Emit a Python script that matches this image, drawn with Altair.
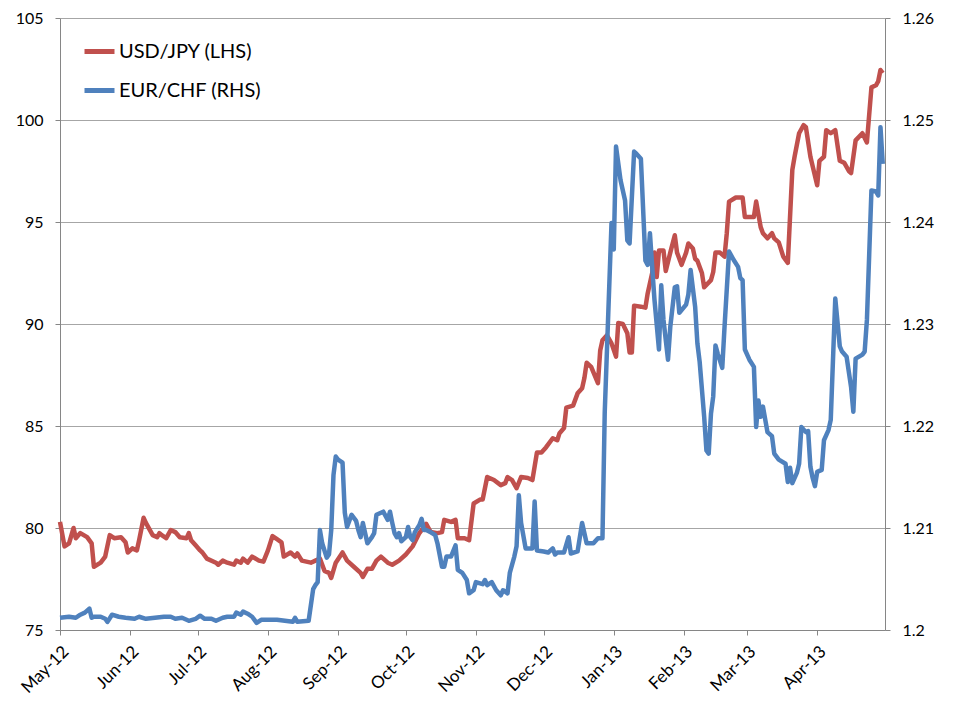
import altair as alt
import pandas as pd

start = pd.Timestamp("2012-05-01")

usd_days = [0, 2, 4, 6, 7, 9, 12, 14, 15, 18,
            20, 22, 24, 27, 29, 30, 32, 34, 35, 37,
            38, 41, 43, 44, 45, 47, 49, 51, 53, 56,
            57, 58, 60, 62, 63, 65, 69, 70, 72, 74,
            77, 78, 80, 81, 83, 85, 88, 90, 92, 94,
            96, 98, 99, 102, 104, 105, 107, 111, 113, 115,
            117, 119, 120, 122, 125, 127, 130, 133, 134, 136,
            138, 140, 142, 145, 147, 150, 153, 156, 159, 162,
            164, 167, 169, 170, 173, 175, 176, 179, 181, 183,
            186, 187, 189, 192, 195, 197, 198, 200, 202, 204,
            207, 209, 211, 213, 215, 218, 220, 221, 223, 224,
            227, 229, 231, 232, 233, 235, 238, 239, 240, 242,
            244, 246, 247, 249, 251, 252, 253, 254, 257, 259,
            260, 262, 263, 264, 265, 267, 268, 270, 272, 273,
            275, 277, 278, 280, 281, 282, 284, 285, 288, 289,
            290, 292, 294, 295, 296, 299, 302, 303, 307, 308,
            310, 311, 313, 315, 316, 318, 320, 322, 324, 325,
            327, 329, 330, 332, 335, 336, 338, 339, 341, 343,
            345, 347, 349, 350, 352, 355, 357, 359, 361, 362,
            363, 364]
usd_vals = [80.3, 79.1, 79.25, 80.0, 79.5, 79.75, 79.55, 79.25, 78.1, 78.3,
            78.6, 79.65, 79.5, 79.55, 79.3, 78.8, 79.0, 78.9, 79.4, 80.5,
            80.25, 79.65, 79.55, 79.75, 79.65, 79.5, 79.9, 79.8, 79.55, 79.5,
            79.75, 79.4, 79.15, 78.9, 78.8, 78.5, 78.3, 78.2, 78.4, 78.3,
            78.2, 78.4, 78.3, 78.5, 78.3, 78.6, 78.4, 78.35, 78.9, 79.6,
            79.45, 79.3, 78.6, 78.8, 78.6, 78.75, 78.4, 78.3, 78.4, 78.5,
            77.9, 77.8, 77.55, 78.3, 78.8, 78.4, 78.1, 77.8, 77.6, 78.0,
            78.0, 78.4, 78.6, 78.3, 78.2, 78.4, 78.7, 79.1, 79.75, 80.2,
            79.8, 79.75, 79.8, 80.4, 80.3, 80.4, 79.5, 79.5, 79.4, 81.2,
            81.4, 81.4, 82.5, 82.35, 82.1, 82.2, 82.5, 82.35, 81.95, 82.5,
            82.45, 82.35, 83.7, 83.7, 83.95, 84.4, 84.3, 84.65, 84.9, 85.9,
            86.0, 86.6, 86.85, 87.35, 88.1, 87.9, 87.1, 88.7, 89.2, 89.45,
            89.05, 88.4, 90.05, 90.0, 89.55, 88.6, 88.6, 90.9, 90.85, 90.8,
            91.5, 92.5, 93.5, 92.3, 93.6, 93.6, 92.6, 93.5, 94.35, 93.5,
            92.9, 93.5, 93.95, 93.7, 93.2, 93.1, 92.5, 91.8, 92.15, 92.55,
            93.5, 93.5, 93.3, 94.45, 96.0, 96.2, 96.2, 95.25, 95.25, 96.0,
            94.75, 94.45, 94.2, 94.45, 94.2, 94.0, 93.3, 93.0, 97.55, 98.2,
            99.35, 99.75, 99.65, 98.2, 96.8, 98.0, 98.2, 99.5, 99.35, 99.5,
            98.0, 97.9, 97.5, 97.4, 99.0, 99.35, 98.9, 101.6, 101.7, 101.9,
            102.45, 102.3]

chf_days = [0, 4, 7, 9, 11, 13, 14, 15, 18, 20,
            21, 23, 26, 29, 33, 35, 38, 42, 46, 49,
            51, 54, 57, 60, 62, 64, 67, 69, 72, 74,
            77, 78, 80, 81, 83, 85, 87, 89, 96, 103,
            104, 105, 110, 112, 113, 114, 115, 116, 118, 119,
            120, 121, 122, 123, 125, 126, 127, 129, 131, 132,
            133, 134, 136, 138, 139, 140, 142, 143, 145, 146,
            147, 148, 149, 150, 151, 153, 154, 155, 156, 157,
            159, 160, 161, 162, 164, 166, 167, 169, 170, 171,
            173, 175, 176, 178, 180, 181, 183, 184, 187, 188,
            189, 191, 193, 195, 196, 198, 199, 201, 202, 203,
            204, 206, 209, 210, 211, 214, 216, 218, 219, 220,
            223, 225, 226, 229, 231, 233, 236, 238, 240, 241,
            244, 245, 246, 248, 250, 251, 252, 254, 255, 257,
            259, 260, 261, 262, 263, 265, 266, 267, 269, 270,
            272, 273, 274, 277, 278, 279, 281, 282, 283, 285,
            286, 287, 288, 289, 290, 291, 293, 294, 296, 298,
            300, 301, 302, 303, 305, 307, 308, 309, 310, 311,
            313, 315, 316, 318, 321, 322, 323, 324, 326, 327,
            328, 330, 331, 332, 333, 334, 335, 337, 338, 340,
            341, 343, 345, 346, 348, 350, 351, 352, 355, 356,
            357, 359, 361, 362, 363, 364]
chf_vals = [1.2012, 1.2013, 1.2012, 1.2015, 1.2017, 1.2021, 1.2012, 1.2013, 1.2013, 1.2011,
            1.2008, 1.2015, 1.2013, 1.2012, 1.2011, 1.2013, 1.2011, 1.2012, 1.2013, 1.2013,
            1.2011, 1.2012, 1.2009, 1.2011, 1.2014, 1.2011, 1.2011, 1.2009, 1.2012, 1.2013,
            1.2013, 1.2017, 1.2015, 1.2018, 1.2016, 1.2013, 1.2007, 1.2010, 1.2010, 1.2008,
            1.2012, 1.2008, 1.2009, 1.2040, 1.2044, 1.2047, 1.2098, 1.2085, 1.2071, 1.2074,
            1.2098, 1.2152, 1.2170, 1.2167, 1.2164, 1.2115, 1.2101, 1.2113, 1.2107, 1.2098,
            1.2091, 1.2105, 1.2085, 1.2091, 1.2095, 1.2113, 1.2115, 1.2116, 1.2108, 1.2116,
            1.2105, 1.2095, 1.2091, 1.2095, 1.2087, 1.2091, 1.2101, 1.2091, 1.2088, 1.2096,
            1.2103, 1.2109, 1.2098, 1.2098, 1.2096, 1.2093, 1.2085, 1.2062, 1.2062, 1.2072,
            1.2072, 1.2083, 1.2059, 1.2056, 1.2049, 1.2036, 1.2039, 1.2047, 1.2045, 1.2049,
            1.2044, 1.2047, 1.2039, 1.2034, 1.2039, 1.2036, 1.2056, 1.2072, 1.2082, 1.2132,
            1.2105, 1.2080, 1.2080, 1.2126, 1.2078, 1.2077, 1.2076, 1.2080, 1.2074, 1.2076,
            1.2076, 1.2091, 1.2075, 1.2077, 1.2105, 1.2085, 1.2085, 1.2090, 1.2090, 1.2213,
            1.2399, 1.2373, 1.2474, 1.2441, 1.2421, 1.2382, 1.2379, 1.2469, 1.2467, 1.2462,
            1.2362, 1.2358, 1.2389, 1.2356, 1.2324, 1.2275, 1.2338, 1.2304, 1.2265, 1.2297,
            1.2336, 1.2337, 1.2311, 1.2319, 1.2329, 1.2353, 1.2317, 1.2281, 1.2263, 1.2209,
            1.2176, 1.2173, 1.2212, 1.2229, 1.2279, 1.2271, 1.2257, 1.2297, 1.2371, 1.2363,
            1.2356, 1.2345, 1.2343, 1.2275, 1.2265, 1.2258, 1.2199, 1.2225, 1.2209, 1.2219,
            1.2194, 1.2190, 1.2173, 1.2167, 1.2163, 1.2145, 1.2159, 1.2144, 1.2154, 1.2163,
            1.2199, 1.2194, 1.2195, 1.2160, 1.2149, 1.2141, 1.2155, 1.2157, 1.2186, 1.2196,
            1.2206, 1.2325, 1.2278, 1.2273, 1.2268, 1.2238, 1.2214, 1.2266, 1.2270, 1.2273,
            1.2304, 1.2431, 1.2430, 1.2426, 1.2493, 1.2457]

series_names = ["USD/JPY (LHS)", "EUR/CHF (RHS)"]
series_colors = ["#C0504D", "#4F81BD"]
left_ticks = [75, 80, 85, 90, 95, 100, 105]
right_ticks = [1.20, 1.21, 1.22, 1.23, 1.24, 1.25, 1.26]
month_ticks = [(2012, m) for m in range(5, 13)] + [(2013, m) for m in range(1, 5)]

assert len(usd_days) == len(usd_vals)
assert len(chf_days) == len(chf_vals)

usd = pd.DataFrame({
    "date": start + pd.to_timedelta(usd_days, unit="D"),
    "value": usd_vals,
    "series": series_names[0],
})
chf = pd.DataFrame({
    "date": start + pd.to_timedelta(chf_days, unit="D"),
    "value": chf_vals,
    "series": series_names[1],
})

FONT = "Lato"
AXIS_GREY = "#868686"

x_enc = alt.X(
    "date:T",
    title=None,
    scale=alt.Scale(domain=[alt.DateTime(year=2012, month=5, date=1),
                            alt.DateTime(year=2013, month=5, date=1)]),
    axis=alt.Axis(
        values=[alt.DateTime(year=y, month=m, date=1) for y, m in month_ticks],
        format="%b-%y",
        labelAngle=-45,
        labelAlign="right",
        labelBaseline="top",
        labelPadding=8,
        labelFontSize=17,
        tickSize=5,
        grid=False,
        domainColor=AXIS_GREY,
        tickColor=AXIS_GREY,
    ),
)

color_enc = alt.Color(
    "series:N",
    scale=alt.Scale(domain=series_names, range=series_colors),
    legend=alt.Legend(
        title=None,
        orient="none",
        legendX=22,
        legendY=16,
        symbolType="stroke",
        symbolStrokeWidth=5,
        symbolSize=900,
        labelFontSize=20,
        labelFont=FONT,
        labelColor="black",
        rowPadding=11,
        labelOffset=2,
    ),
)

left = alt.Chart(usd).mark_line(strokeWidth=4.5, strokeJoin="round").encode(
    x=x_enc,
    y=alt.Y(
        "value:Q",
        title=None,
        scale=alt.Scale(domain=[75, 105], nice=False, zero=False),
        axis=alt.Axis(values=left_ticks, grid=True, gridColor="#a6a6a6",
                      tickSize=5, labelPadding=12, domainColor=AXIS_GREY,
                      tickColor=AXIS_GREY),
    ),
    color=color_enc,
)

right = alt.Chart(chf).mark_line(strokeWidth=4.5, strokeJoin="round").encode(
    x=x_enc,
    y=alt.Y(
        "value:Q",
        title=None,
        scale=alt.Scale(domain=[1.20, 1.26], nice=False, zero=False),
        axis=alt.Axis(orient="right", values=right_ticks, format=".2~f",
                      grid=False, tickSize=5, labelPadding=12,
                      domainColor=AXIS_GREY, tickColor=AXIS_GREY),
    ),
    color=color_enc,
)

chart = alt.layer(left, right).resolve_scale(y="independent").properties(
    width=825,
    height=612,
    padding={"left": 52, "top": 10, "right": 65, "bottom": 80},
    autosize=alt.AutoSizeParams(type="none"),
    background="white",
).configure_view(stroke=None).configure_axis(
    labelFont=FONT,
    labelFontSize=16,
    labelColor="black",
)

chart.save("out.html", embed_options={"renderer": "svg", "actions": False})
